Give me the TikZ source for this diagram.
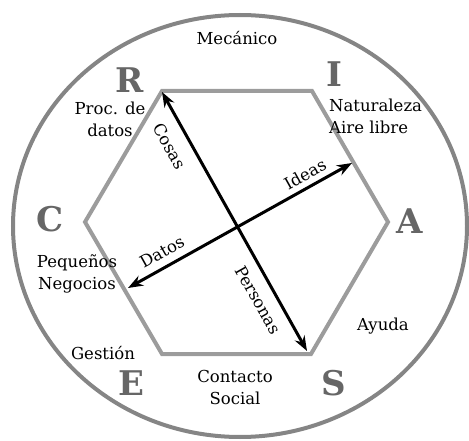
\documentclass[tikz,border=0pt]{standalone}
\usepackage{fontspec}
\setmainfont{DejaVu Serif}
\usetikzlibrary{arrows.meta}
\definecolor{hexgray}{HTML}{9C9C9C}
\definecolor{ringgray}{HTML}{858585}
\definecolor{letgray}{HTML}{666666}
\tikzset{
  hexline/.style={draw=hexgray,line width=4pt,line join=miter},
  ring/.style={draw=ringgray,line width=4pt},
  axis/.style={line width=3pt,{Stealth[length=15pt,width=11pt]}-{Stealth[length=15pt,width=11pt]}},
  bigletter/.style={font=\fontsize{34}{34}\selectfont\bfseries,text=letgray,inner sep=0pt},
  lbl/.style={font=\fontsize{16.5}{22}\selectfont,align=center,inner sep=0pt},
  axlbl/.style={font=\fontsize{16.5}{20}\selectfont,inner sep=0pt}
}
\begin{document}
\begin{tikzpicture}[x=1pt,y=-1pt]
\useasboundingbox (0,0) rectangle (469,441);
% ring
\draw[ring] (240,226) ellipse [x radius=227, y radius=211];
% hexagon
\coordinate (vR) at (162,91);
\coordinate (vI) at (312,91);
\coordinate (vA) at (388,222);
\coordinate (vS) at (311,354);
\coordinate (vE) at (162,354);
\coordinate (vC) at (85,222);
\draw[hexline] (vR) -- (vI) -- (vA) -- (vS) -- (vE) -- (vC) -- cycle;
% axes
\coordinate (cosasEnd) at (162,92);
\coordinate (personasEnd) at (307,351);
\coordinate (datosEnd) at (128,288);
\coordinate (ideasEnd) at (352,163);
\draw[axis] (cosasEnd) -- (personasEnd);
\draw[axis] (datosEnd) -- (ideasEnd);
% axis labels
\node[axlbl,rotate=-60.7] (cosas) at (170,146) {Cosas};
\node[axlbl,rotate=-60.7] (personas) at (258,300) {Personas};
\node[axlbl,rotate=29.2] (ideas) at (305,174) {Ideas};
\node[axlbl,rotate=29.2] (datos) at (162,252) {Datos};
% big letters
\node[bigletter] (R) at (130,80) {R};
\node[bigletter] (I) at (334,74) {I};
\node[bigletter] (C) at (50,219) {C};
\node[bigletter] (A) at (410,221) {A};
\node[bigletter] (E) at (131,383) {E};
\node[bigletter] (S) at (334,383) {S};
% labels
\node[lbl] (mec) at (237,38) {Mecánico};
\node[lbl,align=left,anchor=west] (nat) at (329,116) {Naturaleza\\Aire libre};
\node[lbl] (proc) at (110,119) {Proc. de\\datos};
\node[lbl] (peq) at (77,274) {Pequeños\\Negocios};
\node[lbl] (ayuda) at (383,326) {Ayuda};
\node[lbl] (gest) at (103,353) {Gestión};
\node[lbl] (cont) at (235,387) {Contacto\\Social};
\end{tikzpicture}
\end{document}
